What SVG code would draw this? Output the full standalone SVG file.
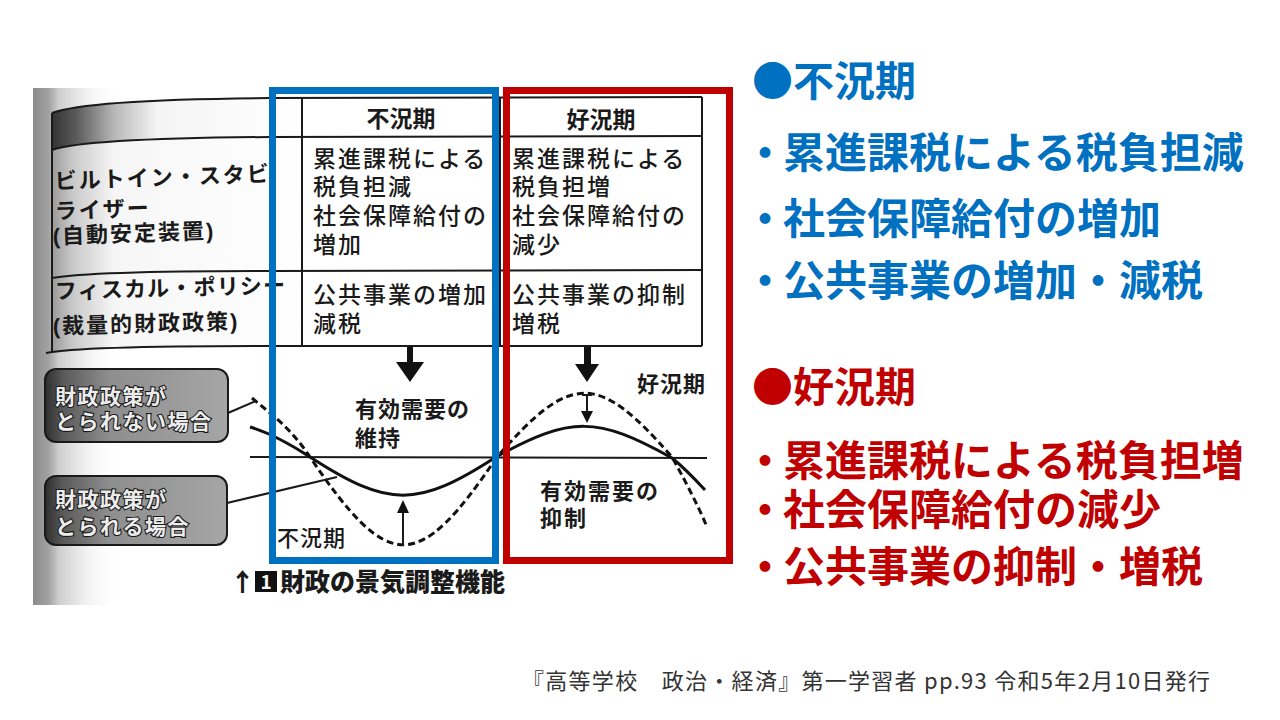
<svg xmlns="http://www.w3.org/2000/svg" width="1280" height="720" viewBox="0 0 1280 720">
  <style>
    .jp { font-family: 'Noto Sans CJK JP', 'Noto Sans', sans-serif; }
    .tight { font-family: 'Liberation Sans', 'Noto Sans CJK JP', sans-serif; }
    .scan { fill: #1a1a1a; }
    .body { font-size: 23px; font-weight: 500; letter-spacing: 2px; }
    .head { font-size: 23px; font-weight: 700; }
    .lbl { font-size: 22px; font-weight: 700; letter-spacing: 2px; }
    .glbl { font-size: 22px; font-weight: 700; letter-spacing: 1px; }
    .call { font-size: 21px; font-weight: 700; letter-spacing: 1.5px; fill: #ececec; stroke: #1a1a1a; stroke-width: 2.2; paint-order: stroke; }
    .line { fill: none; stroke: #1a1a1a; stroke-width: 2; }
    .curve { fill: none; stroke: #111; stroke-width: 3; }
    .dash { fill: none; stroke: #111; stroke-width: 3; stroke-dasharray: 7 4; }
    .big { font-size: 41px; font-weight: 700; }
    .item { font-size: 42px; font-weight: 700; }
    .blue { fill: #0070C0; }
    .red { fill: #C00000; }
    .src { font-size: 22px; font-weight: 400; fill: #333; }
  </style>
  <defs>
    <linearGradient id="spine" x1="33" y1="0" x2="120" y2="0" gradientUnits="userSpaceOnUse">
      <stop offset="0" stop-color="#8c8c8c"/>
      <stop offset="0.18" stop-color="#a2a2a2"/>
      <stop offset="0.3" stop-color="#cfcfcf"/>
      <stop offset="0.6" stop-color="#f0f0f0"/>
      <stop offset="1" stop-color="#ffffff" stop-opacity="0"/>
    </linearGradient>
    <linearGradient id="cellDark" x1="52" y1="0" x2="302" y2="0" gradientUnits="userSpaceOnUse">
      <stop offset="0" stop-color="#333"/>
      <stop offset="0.1" stop-color="#5c5c5c"/>
      <stop offset="0.25" stop-color="#b8b8b8"/>
      <stop offset="0.42" stop-color="#f4f4f4"/>
      <stop offset="1" stop-color="#ffffff"/>
    </linearGradient>
    <linearGradient id="cellLight" x1="52" y1="0" x2="302" y2="0" gradientUnits="userSpaceOnUse">
      <stop offset="0" stop-color="#9a9a9a"/>
      <stop offset="0.08" stop-color="#c8c8c8"/>
      <stop offset="0.25" stop-color="#f6f6f6"/>
      <stop offset="1" stop-color="#ffffff"/>
    </linearGradient>
    <linearGradient id="boxFill" x1="0" y1="0" x2="1" y2="0">
      <stop offset="0" stop-color="#2e2e2e"/>
      <stop offset="0.1" stop-color="#5a5a5a"/>
      <stop offset="0.35" stop-color="#8e8e8e"/>
      <stop offset="1" stop-color="#a6a6a6"/>
    </linearGradient>
  </defs>

  <rect width="1280" height="720" fill="#ffffff"/>

  <!-- scanned page background -->
  <g id="scan-bg">
    <rect x="33" y="88" width="87" height="517" fill="url(#spine)"/>
  </g>

  <!-- table -->
  <g id="table">
    <path d="M52,113 C75,104 140,99 270,98 L302,98 L302,137 L270,137 C140,138 75,142 52,150 Z" fill="url(#cellDark)"/>
    <path d="M52,150 C75,142 140,138 270,137 L302,137 L302,271 L270,271 C150,271 80,273 52,278 Z" fill="url(#cellLight)"/>
    <path d="M52,278 C80,273 150,271 270,271 L302,271 L302,346 L270,346 C150,346 80,348 52,352 Z" fill="url(#cellLight)"/>
    <path class="line" d="M52,113 C75,104 140,99 270,98 L702,97"/>
    <path class="line" d="M52,150 C75,142 140,138 270,137 L702,136"/>
    <path class="line" d="M52,278 C80,273 150,271 270,271 L702,270"/>
    <path class="line" d="M46,353 C70,348 150,346 270,346 L702,346"/>
    <path class="line" d="M52,113 L52,352"/>
    <path class="line" d="M302,98 L302,346"/>
    <path class="line" d="M500,97 L500,346"/>
    <path class="line" d="M702,97 L702,346"/>
  </g>

  <g id="row-labels" class="tight scan lbl">
    <text x="55" y="189" transform="rotate(-2 55 189)">ビルトイン・スタビ</text>
    <text x="55" y="219" transform="rotate(-2 55 219)">ライザー</text>
    <text x="53" y="244" transform="rotate(-2 53 244)">(自動安定装置)</text>
    <text x="55" y="299" letter-spacing="1.2" transform="rotate(-1.5 55 299)">フィスカル・ポリシー</text>
    <text x="53" y="334" transform="rotate(-1.5 53 334)">(裁量的財政政策)</text>
  </g>

  <g id="col-recession" class="scan">
    <text class="jp head" x="401" y="127" text-anchor="middle">不況期</text>
    <g class="tight body">
      <text x="313" y="167">累進課税による</text>
      <text x="313" y="195">税負担減</text>
      <text x="313" y="224">社会保障給付の</text>
      <text x="313" y="253">増加</text>
      <text x="313" y="303">公共事業の増加</text>
      <text x="313" y="332">減税</text>
    </g>
  </g>

  <g id="col-boom" class="scan">
    <text class="jp head" x="601" y="128" text-anchor="middle">好況期</text>
    <g class="tight body">
      <text x="512" y="167">累進課税による</text>
      <text x="512" y="195">税負担増</text>
      <text x="512" y="224">社会保障給付の</text>
      <text x="512" y="253">減少</text>
      <text x="512" y="303">公共事業の抑制</text>
      <text x="512" y="332">増税</text>
    </g>
  </g>

  <!-- graph connectors -->
  <g id="connectors">
    <path class="line" d="M250,457 L707,458"/>
    <path class="curve" d="M250,427 C270,433 290,444 310,457 C389,508 417,508 496,457 C571,416 597,416 672,458 C682,466 693,477 705,490"/>
    <path class="dash" d="M252,398 C272,415 290,427 310,457 C389,574 418,574 497,457 C571,372 598,372 672,457 C682,475 697,503 707,527"/>
    <path class="line" d="M228,413 L256,401"/>
    <path class="line" d="M227,503 L337,477"/>
    <!-- big down arrows -->
    <path d="M407,347 L413,347 L413,362 L424,362 L410,382 L396,362 L407,362 Z" fill="#111"/>
    <path d="M584,347 L591,347 L591,364 L599,364 L587,382 L575,364 L584,364 Z" fill="#111"/>
    <!-- small arrows -->
    <path class="line" d="M403,545 L403,512"/>
    <path d="M397,513 L403,500 L409,513 Z" fill="#111"/>
    <path class="line" d="M587,395 L587,412"/>
    <path class="line" d="M582,395 L592,395"/>
    <path d="M581,411 L587,423 L593,411 Z" fill="#111"/>
  </g>

  <g id="graph-labels" class="tight scan glbl">
    <text x="355" y="417">有効需要の</text>
    <text x="355" y="446">維持</text>
    <text x="637" y="392">好況期</text>
    <text x="540" y="499" letter-spacing="2">有効需要の</text>
    <text x="540" y="526" letter-spacing="2">抑制</text>
    <text x="277" y="546" font-weight="500">不況期</text>
  </g>

  <g id="callout-not-taken">
    <rect x="45" y="369" width="183" height="73" rx="11" fill="url(#boxFill)" stroke="#1a1a1a" stroke-width="2"/>
    <text class="tight call" x="55" y="404">財政政策が</text>
    <text class="tight call" x="55" y="429">とられない場合</text>
  </g>

  <g id="callout-taken">
    <rect x="45" y="476" width="182" height="69" rx="11" fill="url(#boxFill)" stroke="#1a1a1a" stroke-width="2"/>
    <text class="tight call" x="55" y="507">財政政策が</text>
    <text class="tight call" x="55" y="534">とられる場合</text>
  </g>

  <g id="caption" class="jp scan">
    <text x="230" y="591" font-size="25" font-weight="900">↑</text>
    <rect x="255" y="571" width="22" height="21" fill="#111"/>
    <text x="266" y="589" font-size="19" font-weight="700" fill="#fff" text-anchor="middle">1</text>
    <text x="280" y="591" font-size="25" font-weight="900">財政の景気調整機能</text>
  </g>

  <!-- highlight frames -->
  <g id="frame-recession">
    <rect x="272.5" y="90.5" width="223" height="470" fill="none" stroke="#0070C0" stroke-width="7"/>
  </g>
  <g id="frame-boom">
    <rect x="506.5" y="90.5" width="223" height="470" fill="none" stroke="#C00000" stroke-width="7"/>
  </g>

  <g id="summary-recession" class="blue">
    <text class="jp big" x="752" y="96">●不況期</text>
    <text class="tight item" x="744" y="168">・</text>
    <text class="tight item" x="783" y="168">累進課税による税負担減</text>
    <text class="tight item" x="744" y="234">・</text>
    <text class="tight item" x="783" y="234">社会保障給付の増加</text>
    <text class="tight item" x="744" y="296">・</text>
    <text class="tight item" x="783" y="296">公共事業の増加・減税</text>
  </g>

  <g id="summary-boom" class="red">
    <text class="jp big" x="752" y="402">●好況期</text>
    <text class="tight item" x="744" y="476">・</text>
    <text class="tight item" x="783" y="476">累進課税による税負担増</text>
    <text class="tight item" x="744" y="525">・</text>
    <text class="tight item" x="783" y="525">社会保障給付の減少</text>
    <text class="tight item" x="744" y="582">・</text>
    <text class="tight item" x="783" y="582">公共事業の抑制・増税</text>
  </g>

  <g id="source">
    <text class="jp src" x="522" y="689" textLength="688" lengthAdjust="spacing">『高等学校　政治・経済』第一学習者 pp.93 令和5年2月10日発行</text>
  </g>
</svg>
